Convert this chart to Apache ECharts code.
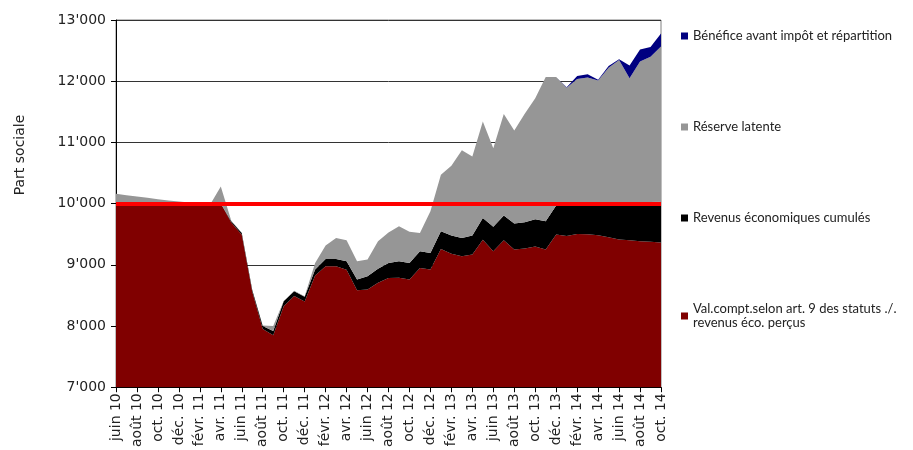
<!DOCTYPE html>
<html>
<head>
<meta charset="utf-8">
<script src="https://cdn.jsdelivr.net/npm/echarts@6/dist/echarts.min.js"></script>
<style>
    html, body { margin: 0; padding: 0; background: #fff; }
    #chart { width: 913px; height: 450px; }
</style>
</head>
<body>
<div id="chart"></div>
<script>
    // mois, de juin 2010 à oct. 2014
    var months = [
        'juin 10','juil. 10','août 10','sept. 10','oct. 10','nov. 10','déc. 10',
        'janv. 11','févr. 11','mars 11','avr. 11','mai 11','juin 11','juil. 11','août 11','sept. 11','oct. 11','nov. 11','déc. 11',
        'janv. 12','févr. 12','mars 12','avr. 12','mai 12','juin 12','juil. 12','août 12','sept. 12','oct. 12','nov. 12','déc. 12',
        'janv. 13','févr. 13','mars 13','avr. 13','mai 13','juin 13','juil. 13','août 13','sept. 13','oct. 13','nov. 13','déc. 13',
        'janv. 14','févr. 14','mars 14','avr. 14','mai 14','juin 14','juil. 14','août 14','sept. 14','oct. 14'
    ];

    var valCompt = [
        10000,10000,10000,10000,10000,10000,10000,10000,10000,9985,10000,9690,9490,8560,7950,7850,8325,8490,8400,
        8825,8975,8975,8920,8585,8595,8705,8785,8790,8760,8950,8925,
        9260,9180,9140,9170,9410,9220,9400,9250,9265,9300,9250,9495,
        9470,9505,9500,9485,9450,9415,9400,9385,9375,9365
    ];
    var revenusCumules = [
        0,0,0,0,0,0,0,0,0,0,0,20,30,30,50,70,80,80,80,
        100,120,120,140,175,220,230,245,270,270,270,270,
        290,300,300,310,355,400,405,425,430,445,460,475,
        530,505,510,530,570,605,620,640,650,665
    ];
    var reserveLatente = [
        160,138,116,94,72,50,35,20,5,5,280,10,5,0,10,80,5,5,5,
        105,220,345,340,300,270,450,500,570,510,300,680,
        920,1140,1430,1290,1575,1285,1660,1520,1775,1975,2360,2100,
        1895,2025,2050,1995,2200,2325,2030,2295,2375,2535
    ];
    var benefice = [
        0,0,0,0,0,0,0,0,0,0,0,0,0,0,0,0,0,0,0,
        0,0,0,0,0,0,0,0,0,0,0,0,
        0,0,0,0,0,0,0,0,0,0,0,0,
        5,50,55,15,30,15,205,200,160,215
    ];
    var partSociale = 10000;

    var names = [
        'Val.compt.selon art. 9 des statuts ./.\nrevenus éco. perçus',
        'Revenus économiques cumulés',
        'Réserve latente',
        'Bénéfice avant impôt et répartition'
    ];
    var colors = ['#800000', '#000000', '#969696', '#000080'];
    var values = [valCompt, revenusCumules, reserveLatente, benefice];

    var font = 'DejaVu Sans';

    var series = [];
    for (var i = 0; i < values.length; i++) {
        series.push({
            name: names[i],
            type: 'line',
            stack: 'total',
            data: values[i],
            showSymbol: false,
            symbol: 'none',
            lineStyle: { width: 0 },
            itemStyle: { color: colors[i] },
            areaStyle: { color: colors[i], opacity: 1 }
        });
    }
    // ligne rouge de la part sociale
    series[3].markLine = {
        silent: true,
        symbol: 'none',
        label: { show: false },
        lineStyle: { color: '#ff0000', width: 4, type: 'solid' },
        data: [{ yAxis: partSociale }]
    };

    var myChart = echarts.init(document.getElementById('chart'));
    myChart.setOption({
        animation: false,
        textStyle: { fontFamily: font },
        grid: {
            left: 116, right: 252, top: 20, bottom: 62,
            show: true,
            borderColor: '#808080',
            borderWidth: 1
        },
        legend: {
            orient: 'vertical',
            left: 676,
            top: 24,
            itemWidth: 7,
            itemHeight: 7,
            itemGap: 77,
            icon: 'rect',
            textStyle: { fontFamily: 'Lato', fontSize: 13, color: '#222', lineHeight: 14 },
            data: [names[3], names[2], names[1], names[0]]
        },
        graphic: [{
            type: 'text',
            x: 20,
            y: 155,
            rotation: Math.PI / 2,
            style: {
                text: 'Part sociale',
                fill: '#222',
                font: '14px "DejaVu Sans"',
                textAlign: 'center',
                textVerticalAlign: 'middle'
            }
        }],
        xAxis: {
            type: 'category',
            boundaryGap: false,
            data: months,
            axisLine: { lineStyle: { color: '#000' } },
            axisTick: { interval: 1, length: 5, lineStyle: { color: '#000' } },
            axisLabel: {
                interval: 1,
                rotate: 90,
                margin: 6,
                fontSize: 14,
                color: '#222'
            }
        },
        yAxis: {
            type: 'value',
            min: 7000,
            max: 13000,
            interval: 1000,
            axisLine: { show: true, lineStyle: { color: '#000' } },
            axisTick: { show: true, length: 5, lineStyle: { color: '#000' } },
            axisLabel: {
                fontSize: 14,
                color: '#222',
                margin: 10,
                formatter: function (v) {
                    return String(v).replace(/\B(?=(\d{3})+(?!\d))/g, "'");
                }
            },
            splitLine: { show: true, lineStyle: { color: '#333', width: 1 } }
        },
        series: series
    });
</script>
</body>
</html>
